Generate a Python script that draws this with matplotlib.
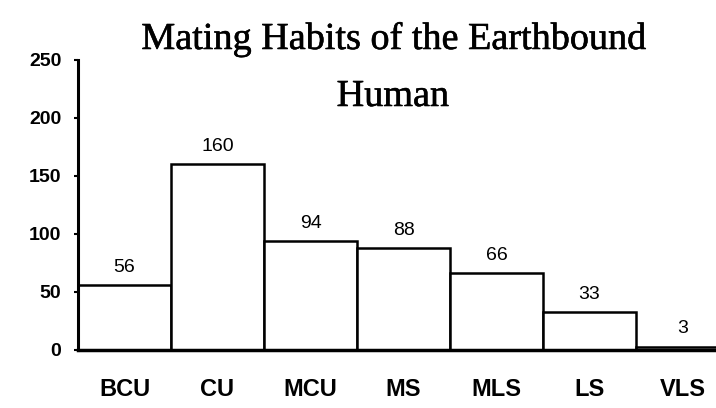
import matplotlib
matplotlib.use("Agg")
import matplotlib.pyplot as plt
import matplotlib.patheffects as pe

categories = ["BCU", "CU", "MCU", "MS", "MLS", "LS", "VLS"]
counts = [56, 160, 94, 88, 66, 33, 3]
yticks = [0, 50, 100, 150, 200, 250]
title_lines = ["Mating Habits of the Earthbound", "Human"]

W, H = 716, 408
fig = plt.figure(figsize=(W / 100, H / 100), dpi=100)
ax = fig.add_axes([78 / W, (H - 350) / H, 1 - 78 / W, 290 / H])

x = list(range(len(categories)))
ax.bar(x, counts, width=1.0, color="white", edgecolor="black", linewidth=1.8, zorder=2)

for xi, v in zip(x, counts):
    ax.annotate(str(v), (xi, v), xytext=(0, 9.5), textcoords="offset points",
                ha="center", va="baseline", fontsize=14, family="Liberation Sans")

ax.set_xlim(-0.5, 6.36)
ax.set_ylim(0, 250)
ax.set_yticks(yticks)
ax.set_yticklabels([str(t) for t in yticks], fontsize=14, fontweight="bold",
                   family="Liberation Sans")
ax.set_xticks(x)
ax.set_xticklabels(categories, fontsize=17, fontweight="bold", family="Liberation Sans")
ax.tick_params(axis="x", length=0, pad=20)
ax.tick_params(axis="y", length=3, width=1.5, pad=9)

for side in ("top", "right"):
    ax.spines[side].set_visible(False)
ax.spines["left"].set_linewidth(2.2)
ax.spines["bottom"].set_linewidth(2.5)
ax.spines["bottom"].set_zorder(3)

heavy = [pe.withStroke(linewidth=0.4, foreground="black")]
fig.text(394.5 / W, 1 - 49 / H, title_lines[0], ha="center", va="baseline",
         fontsize=27.5, family="Liberation Serif", path_effects=heavy)
fig.text(393 / W, 1 - 106 / H, title_lines[1], ha="center", va="baseline",
         fontsize=27.5, family="Liberation Serif", path_effects=heavy)

fig.savefig("out.png", dpi=100)
